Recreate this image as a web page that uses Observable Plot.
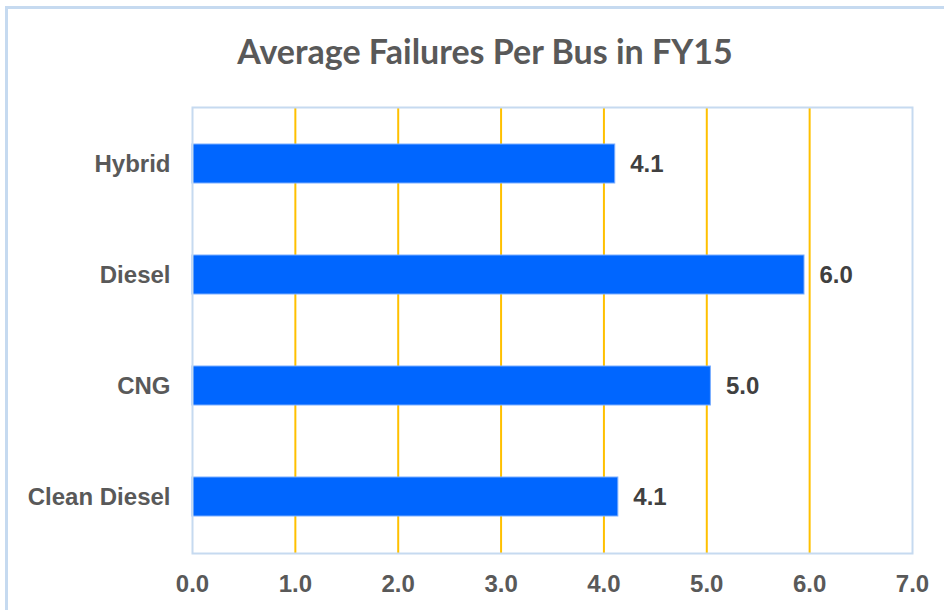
<!DOCTYPE html>
<html>
<head>
<meta charset="utf-8">
<script src="https://cdn.jsdelivr.net/npm/d3@7"></script>
<script src="https://cdn.jsdelivr.net/npm/@observablehq/plot@0.6"></script>
<style>
  html, body { margin: 0; padding: 0; background: #fff; overflow: hidden; }
  #wrap { position: relative; width: 944px; height: 610px; overflow: hidden; background: #fff; }
  #outer { position: absolute; left: 5px; top: 6px; width: 1100px; height: 1100px; border: 3px solid #c6daf0; box-sizing: border-box; }
  #title { position: absolute; left: 0; top: 34px; width: 970px; text-align: center; font-family: Lato, "Open Sans", sans-serif; font-weight: 700; font-size: 34px; line-height: 34px; color: #595959; }
  #chart { position: absolute; left: 0; top: 0; }
</style>
</head>
<body>
<div id="wrap">
  <div id="outer"></div>
  <div id="title">Average Failures Per Bus in FY15</div>
  <div id="chart"></div>
</div>
<script>
const categories = ["Hybrid", "Diesel", "CNG", "Clean Diesel"];
const values = [4.11, 5.95, 5.04, 4.14];
const labels = ["4.1", "6.0", "5.0", "4.1"];
const xTicks = [0, 1, 2, 3, 4, 5, 6, 7];
const gridLines = [1, 2, 3, 4, 5, 6];

const data = categories.map((c, i) => ({category: c, value: values[i], label: labels[i]}));

const chart = Plot.plot({
  width: 944,
  height: 610,
  marginTop: 107,
  marginBottom: 57,
  marginLeft: 192,
  marginRight: 32,
  style: {
    fontFamily: "'Liberation Sans', Arial, sans-serif",
    fontSize: "24px",
    fontWeight: "bold",
    color: "#595959",
    background: "transparent"
  },
  x: { domain: [0, 7], ticks: xTicks, tickFormat: d => d.toFixed(1), tickSize: 0, tickPadding: 21, label: null },
  y: { domain: categories, paddingInner: 0.65, paddingOuter: 0.325, tickSize: 0, tickPadding: 22, label: null },
  marks: [
    Plot.ruleX(gridLines, { stroke: "#FFC000", strokeWidth: 2 }),
    Plot.barX(data, { x: "value", y: "category", fill: "#0066FF", stroke: "#7aaeff", strokeWidth: 1 }),
    Plot.text(data, { x: "value", y: "category", text: "label", dx: 15, textAnchor: "start", fill: "#404040", fontSize: 24, fontWeight: "bold" }),
    Plot.frame({ stroke: "#c6daf0", strokeWidth: 2 })
  ]
});
document.getElementById("chart").appendChild(chart);
</script>
</body>
</html>
